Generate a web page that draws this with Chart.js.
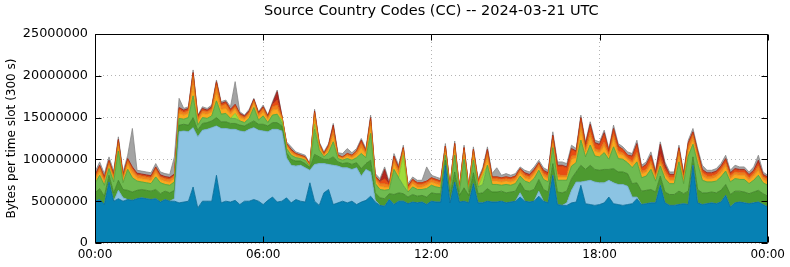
<!DOCTYPE html>
<html>
<head>
<meta charset="utf-8">
<script src="https://cdn.jsdelivr.net/npm/chart.js@4/dist/chart.umd.min.js"></script>
<style>
  html, body { margin: 0; padding: 0; background: #fff; }
  #box { width: 790px; height: 267px; }
</style>
</head>
<body>
<div id="box"><canvas id="chart"></canvas></div>
<script>
// ----------------------------------------------------------------------
//  Source Country Codes (CC) -- 2024-03-21 UTC
//  stacked area, values in millions of bytes per 300 s slot
//  one value every 10 minutes, 00:00 .. 24:00 (145 points)
// ----------------------------------------------------------------------
const slot_minutes = 10
const tick_labels = ["00:00", "06:00", "12:00", "18:00", "00:00"]

const series_names = ["cc01", "cc02", "cc03", "cc04", "cc05", "cc06", "cc07", "cc08", "cc09", "cc10"]

const data_dark_blue = [
	5.0,5.2,4.6,7.3,5.0,5.3,5.0,5.2,5.1,5.3,5.4,5.3,5.2,5.3,4.9,5.2,5.0,5.0,
	4.8,4.9,5.0,6.7,4.2,5.0,5.0,5.0,8.1,4.8,5.0,4.9,5.1,4.6,5.0,5.0,5.2,5.0,4.6,5.1,5.5,4.9,5.0,
	5.4,4.8,5.2,5.0,4.9,7.2,5.0,4.5,6.0,6.4,4.6,4.8,5.0,4.8,5.0,4.6,4.9,5.1,5.6,
	4.9,4.5,4.4,5.2,4.6,5.0,5.0,4.7,4.9,4.8,4.9,4.6,
	5.0,4.9,4.9,9.3,4.8,7.3,4.9,5.0,4.8,7.1,4.8,4.8,5.0,4.9,4.9,5.0,4.8,4.9,5.0,5.5,5.0,4.9,5.0,5.6,5.0,
	4.8,8.1,4.6,4.5,4.5,4.8,4.9,6.9,4.7,4.6,4.5,4.6,4.8,5.5,4.7,4.6,4.5,4.6,4.7,5.3,4.6,4.7,4.8,
	4.8,6.9,4.8,4.5,4.5,4.6,4.7,4.6,9.3,4.8,4.6,4.7,4.8,4.7,4.9,5.7,4.3,4.8,4.9,4.8,4.7,4.8,4.9,4.6,4.3]

const data_light_blue = [
	0,0,0,0,0,1.0,0.4,0,0,0,0,0,0,0,0,0,0,0.3,
	8.5,8.5,8.3,7.1,8.5,8.5,8.6,8.8,5.9,8.9,8.7,8.7,8.5,8.8,8.3,8.6,8.6,8.5,8.8,8.2,8.1,8.7,8.4,
	4.8,4.5,4.0,4.3,4.1,1.5,4.4,5.0,3.5,3.0,4.7,4.4,4.0,4.2,3.8,4.4,3.1,3.7,2.9,
	0.2,0,0,0,0,0,0,0,0,0,0,0,
	0,0,0,0,0,0,0,0,0,0,0,0,0,0,0,0,0,0,0,0.5,0,0,0,0.6,0,
	0,0,0,0,0.3,1.5,2.4,0.4,2.7,2.9,2.8,2.6,2.4,2.0,2.5,2.4,2.5,2.2,0.8,0.2,0,0,0,
	0,0,0,0,0,0,0,0,0,0,0,0,0,0,0,0,0,0,0,0,0,0,0,0,0]

const data_dark_green = [
	1.0,1.3,1.0,0.8,1.0,1.2,1.0,1.1,1.0,1.0,1.0,1.0,1.0,1.1,1.0,1.0,1.0,1.0,
	0.8,0.8,0.8,1.2,0.8,0.8,0.8,0.8,1.0,0.8,0.8,0.7,0.7,0.7,0.7,0.7,0.8,0.7,0.8,0.7,0.8,0.8,0.6,
	0.6,0.7,0.6,0.5,0.5,0.3,1.2,0.8,0.5,0.6,1.0,0.5,0.5,0.6,0.6,0.6,0.9,0.7,1.4,
	0.9,0.9,0.9,0.7,1.2,1.0,0.9,0.8,0.9,0.8,0.8,0.9,
	1.0,1.0,1.0,0.6,0.9,1.2,0.8,1.6,0.9,1.3,1.1,1.2,1.5,1.2,1.2,1.2,1.2,1.2,1.2,1.2,1.3,1.3,1.4,1.4,1.4,
	1.3,1.4,1.5,1.5,1.4,1.4,1.2,2.0,1.4,1.8,1.5,1.5,1.6,1.3,1.7,1.5,1.5,1.5,1.6,1.7,1.6,1.6,1.6,
	1.3,1.1,1.3,1.3,1.3,1.6,1.2,1.6,1.0,1.6,1.4,1.3,1.3,1.3,1.4,1.3,1.5,1.4,1.3,1.3,1.2,1.3,1.4,1.3,1.3]

const data_light_green = [
	1.1,1.6,1.3,0.8,1.3,3.5,0.8,2.5,1.7,1.1,0.9,0.9,0.9,1.5,1.3,0.8,0.9,1.0,
	0.8,0.6,0.9,2.6,0.6,0.7,0.5,0.6,2.0,0.9,1.0,0.6,0.6,0.5,0.4,0.6,1.6,0.5,1.0,0.4,0.9,1.0,0.3,
	0.5,0.5,0.4,0.3,0.4,0.1,3.0,0.8,0.3,0.8,1.8,0.4,0.4,0.5,0.5,0.6,1.8,0.7,3.2,
	1.1,1.0,1.0,0.5,3.0,1.8,1.0,0.6,0.9,0.8,0.7,1.0,
	0.9,0.8,0.7,0.6,0.5,2.0,0.4,3.4,0.4,1.5,0.8,1.0,2.8,0.9,0.9,0.7,1.0,0.8,0.9,0.8,1.1,1.0,1.3,1.1,1.2,
	1.2,1.9,1.4,1.5,1.3,1.5,1.1,3.0,1.5,2.4,1.6,1.6,2.0,1.2,2.6,1.6,1.5,1.3,1.9,2.5,1.6,1.7,2.4,
	1.3,1.2,1.6,1.3,1.3,3.5,1.2,4.2,1.5,3.1,1.5,1.3,1.2,1.4,1.6,1.6,1.5,1.5,1.4,1.5,1.2,1.4,1.8,1.3,1.3]

const data_lime = [
	0,0,0,0,0,0,0,0,0,0,0,0,0,0,0,0,0,0,
	0,0,0,0,0,0,0,0,0,0,0,0,0.6,0,0,0,0,0,0,0,0,0,0.4,
	0,0,0,0,0,0,0.6,0,0,0,0,0,0,0,0,0,0,0,0,
	0,0,0,0,0,0,3.6,0,0,0,0,0,
	0,0,0,0,0,0,0,0,0,0,0,1.0,0,0,0,0,0,0,0,0,0,0,0,0,0,
	0,0,0,0,0,0,0,0,0,0,0,0,0,0,0,0,0,0,0,0,0,0,0,
	0,0,0,0,0,0,0,0,0,0,0,0,0,0,0,0,0,0,0,0,0,0,0,0,0]

const data_yellow = [
	0.4,0.5,0.4,0.4,0.4,0.6,0.4,0.6,0.6,0.4,0.4,0.4,0.4,0.5,0.4,0.4,0.4,0.4,
	0.6,0.5,0.5,1.3,0.5,0.5,0.5,0.5,1.0,0.6,0.6,0.5,0.5,0.4,0.4,0.4,0.5,0.4,0.5,0.4,0.6,0.6,0.3,
	0.3,0.3,0.2,0.2,0.2,0.1,0.8,0.4,0.2,0.4,0.8,0.2,0.2,0.3,0.3,0.4,0.7,0.4,0.9,
	0.4,0.4,0.4,0.3,0.7,0.5,0.4,0.3,0.4,0.3,0.3,0.4,
	0.4,0.4,0.3,0.4,0.3,0.6,0.2,0.6,0.3,0.6,0.3,0.4,0.8,0.4,0.4,0.4,0.4,0.4,0.4,0.4,0.4,0.4,0.5,0.4,0.4,
	0.4,0.5,0.4,0.4,0.4,0.8,0.6,1.3,0.6,1.0,0.6,0.5,0.8,0.4,1.0,0.6,0.5,0.4,0.5,0.8,0.5,0.5,0.6,
	0.4,0.4,0.5,0.4,0.4,0.7,0.4,0.7,0.6,0.6,0.5,0.4,0.4,0.5,0.5,0.6,0.4,0.5,0.5,0.5,0.4,0.5,0.6,0.4,0.4]

const data_orange = [
	0.3,0.4,0.3,0.3,0.3,0.4,0.3,0.4,0.4,0.3,0.3,0.3,0.3,0.4,0.3,0.3,0.3,0.3,
	0.4,0.3,0.3,1.0,0.3,0.3,0.3,0.3,0.9,0.4,0.5,0.3,0.3,0.3,0.2,0.3,0.3,0.3,0.4,0.2,0.4,0.5,0.1,
	0.2,0.2,0.2,0.1,0.1,0.1,0.5,0.3,0.1,0.3,0.6,0.1,0.1,0.2,0.2,0.3,0.5,0.3,0.6,
	0.3,0.3,0.4,0.2,0.5,0.4,0.3,0.2,0.3,0.3,0.3,0.3,
	0.3,0.3,0.3,0.4,0.2,0.5,0.2,0.5,0.2,0.5,0.3,0.2,0.6,0.3,0.3,0.3,0.3,0.3,0.3,0.3,0.3,0.3,0.3,0.3,0.3,
	0.3,0.4,0.3,0.2,0.2,0.4,0.3,0.7,0.3,0.6,0.3,0.3,0.5,0.2,0.5,0.3,0.3,0.2,0.3,0.4,0.3,0.3,0.4,
	0.3,0.4,0.4,0.3,0.3,0.6,0.3,0.5,0.5,0.5,0.4,0.3,0.3,0.3,0.4,0.4,0.3,0.3,0.3,0.3,0.3,0.3,0.5,0.3,0.3]

const data_red_orange = [
	0.2,0.2,0.2,0.2,0.15,0.3,0.15,0.2,0.2,0.15,0.15,0.15,0.15,0.2,0.15,0.15,0.15,0.15,
	0.2,0.2,0.2,0.4,0.2,0.2,0.1,0.2,0.3,0.2,0.2,0.2,0.2,0.1,0.1,0.1,0.1,0.1,0.1,0.1,0.3,0.6,0.1,
	0.1,0.1,0.1,0.1,0.1,0.1,0.2,0.1,0.1,0.2,0.4,0.1,0.1,0.1,0.1,0.1,0.3,0.1,0.3,
	0.2,0.2,0.6,0.1,0.3,0.2,0.2,0.2,0.2,0.2,0.2,0.2,
	0.2,0.2,0.2,0.3,0.1,0.3,0.1,0.3,0.1,0.2,0.1,0.1,0.4,0.2,0.2,0.2,0.2,0.2,0.2,0.2,0.2,0.2,0.2,0.2,0.3,
	0.3,0.5,1.0,1.1,0.9,0.8,0.4,0.6,0.5,0.7,0.6,0.6,0.9,0.4,0.6,0.5,0.4,0.3,0.5,0.8,0.4,0.5,0.6,
	0.2,0.6,0.4,0.3,0.3,0.3,0.3,0.3,0.3,0.3,0.3,0.3,0.3,0.3,0.3,0.4,0.3,0.3,0.3,0.3,0.3,0.3,0.4,0.2,0.2]

const data_dark_red = [
	0.1,0.1,0.1,0.1,0.1,0.1,0.1,0.1,0.1,0.1,0.1,0.1,0.1,0.1,0.1,0.1,0.1,0.1,
	0.1,0.1,0.1,0.1,0.1,0.1,0.1,0.1,0.1,0.1,0.1,0.1,0.1,0.1,0.1,0.1,0.1,0.1,0.1,0.1,0.1,1.0,0,
	0,0.1,0,0,0,0,0.1,0,0,0,0.2,0,0,0,0,0,0.1,0,0.1,
	0,0.1,1.1,0,0.1,0.1,0,0,0,0,0,0,
	0,0,0,0,0,0,0,0,0,0,0,0,0.1,0,0,0,0,0,0,0,0.1,0.1,0.1,0,0.1,
	0.1,0.1,0.1,0.1,0.1,0.1,0.1,0.1,0.1,0.2,0.1,0.1,0.2,0,0.1,0.1,0,0,0.1,0.2,0,0.1,0.1,
	0.1,1.2,0.4,0.1,0.1,0.1,0.1,0.1,0.1,0.1,0.1,0.1,0.1,0.1,0.1,0.1,0.1,0.1,0.1,0.1,0.1,0.1,0.3,0.1,0.1]

const data_grey = [
	0.4,0.4,0.4,0.4,0.35,0.3,0.35,0.4,4.6,0.35,0.35,0.35,0.35,0.4,0.35,0.35,0.35,2.05,
	1.1,0.2,0.2,0.3,0.1,0.2,0.2,0.2,0.2,0.2,0.2,0.3,2.7,0.2,0.1,0.2,0.1,0.1,0.2,0.1,0.2,0.2,0.1,
	0.2,0.3,0.2,0.2,0.2,0.1,0.2,0.2,0.2,0.2,0.2,0.3,0.4,0.6,0.3,0.3,0.2,0.3,0.3,
	0.3,0.3,0.3,0.3,0.3,0.3,0.3,0.3,0.3,0.3,0.3,1.7,
	0.3,0.3,0.3,0.3,0.1,0.3,0.1,0.3,0.1,0.3,0.3,0.3,0.3,0.4,1.1,0.3,0.4,0.3,0.3,0.2,0.3,0.3,0.3,0.3,0.3,
	0.3,0.4,0.4,0.4,0.4,0.4,0.3,0.3,0.3,0.3,0.3,0.3,0.3,0.3,0.4,0.3,0.3,0.4,0.3,0.4,0.3,0.3,0.4,
	0.3,0.3,0.3,0.3,0.3,0.3,0.3,0.3,0.4,0.3,0.5,0.3,0.3,0.3,0.3,0.4,0.3,0.4,0.3,0.3,0.3,0.4,0.6,0.3,0.2]

// bottom of the stack first
const layers = [
	{ data: data_dark_blue,   fill: '#0681b4', line: '#056a96' },
	{ data: data_light_blue,  fill: '#8cc4e3', line: '#6ea9cb' },
	{ data: data_dark_green,  fill: '#4d9a30', line: '#3d8025' },
	{ data: data_light_green, fill: '#6fbb50', line: '#58a13d' },
	{ data: data_lime,        fill: '#9fdc3a', line: '#80bd28' },
	{ data: data_yellow,      fill: '#fca81e', line: '#df8f14' },
	{ data: data_orange,      fill: '#f4801c', line: '#d66a10' },
	{ data: data_red_orange,  fill: '#e84c14', line: '#c43c0c' },
	{ data: data_dark_red,    fill: '#b3281f', line: '#921c15' },
	{ data: data_grey,        fill: '#a3a3a3', line: '#878787' }
]

// ----------------------------------------------------------------------
function make_datasets ()
{
	var datasets = []
	for (var it = 0; it < layers.length; it += 1)
		{
		const points = layers[it].data.map((v, k) => ({ x: k * slot_minutes, y: v }))
		datasets.push({
			label: series_names[it],
			data: points,
			backgroundColor: layers[it].fill,
			borderColor: layers[it].line,
			borderWidth: 0.8,
			pointRadius: 0,
			tension: 0,
			fill: (it === 0) ? 'origin' : '-1'
			})
		}
	return datasets
}

// frame round the plot with inward ticks on all four sides
const frame_plugin = {
	id: 'frame',
	afterDatasetsDraw (chart)
	{
		const ctx = chart.ctx
		const a = chart.chartArea
		const sx = chart.scales.x
		const sy = chart.scales.y
		const left = Math.round(a.left) + 0.5
		const right = Math.round(a.right) - 0.5
		const top = Math.round(a.top) + 0.5
		const bottom = Math.round(a.bottom) - 0.5
		ctx.save()
		ctx.strokeStyle = '#000'
		ctx.lineWidth = 1
		ctx.beginPath()
		sy.ticks.forEach(t => {
			const py = Math.round(sy.getPixelForValue(t.value)) + 0.5
			ctx.moveTo(left, py); ctx.lineTo(left + 6, py)
			ctx.moveTo(right, py); ctx.lineTo(right - 6, py)
			})
		sx.ticks.forEach(t => {
			const px = Math.round(sx.getPixelForValue(t.value)) + 0.5
			ctx.moveTo(px, bottom); ctx.lineTo(px, bottom - 6)
			ctx.moveTo(px, top); ctx.lineTo(px, top + 6)
			})
		ctx.rect(left, top, right - left, bottom - top)
		ctx.stroke()
		ctx.restore()
	}
}

const font_family = "'DejaVu Sans', sans-serif"

const config = {
	type: 'line',
	data: { datasets: make_datasets() },
	plugins: [frame_plugin],
	options: {
		responsive: true,
		maintainAspectRatio: false,
		animation: false,
		layout: { padding: { left: 0, right: 22, top: 0, bottom: 0 } },
		plugins: {
			legend: { display: false },
			tooltip: { enabled: false },
			title: {
				display: true,
				text: 'Source Country Codes (CC) -- 2024-03-21 UTC',
				fullSize: false,
				color: '#000',
				font: { family: font_family, size: 14.5, weight: 'normal' },
				padding: { top: 3, bottom: 13.6 }
				}
			},
		scales: {
			x: {
				type: 'linear',
				min: 0,
				max: 1440,
				afterFit: (s) => { s.height = 24 },
				ticks: {
					stepSize: 360,
					autoSkip: false,
					maxRotation: 0,
					padding: 5,
					color: '#000',
					font: { family: font_family, size: 12 },
					callback: (v, i) => tick_labels[i]
					},
				grid: { color: '#b4b4b4', lineWidth: 1, drawTicks: false },
				border: { display: false, dash: [1, 3] }
				},
			y: {
				stacked: true,
				min: 0,
				max: 25,
				afterFit: (s) => { s.width = 95 },
				ticks: {
					stepSize: 5,
					padding: 7,
					color: '#000',
					font: { family: font_family, size: 12.8 },
					callback: (v) => String(v * 1000000)
					},
				grid: { color: '#b4b4b4', lineWidth: 1, drawTicks: false },
				border: { display: false, dash: [1, 3] },
				title: {
					display: true,
					text: 'Bytes per time slot (300 s)',
					color: '#000',
					font: { family: font_family, size: 12 },
					padding: { top: 5, bottom: 0 }
					}
				}
			}
		}
}

const chart = new Chart(document.getElementById('chart'), config)
</script>
</body>
</html>
